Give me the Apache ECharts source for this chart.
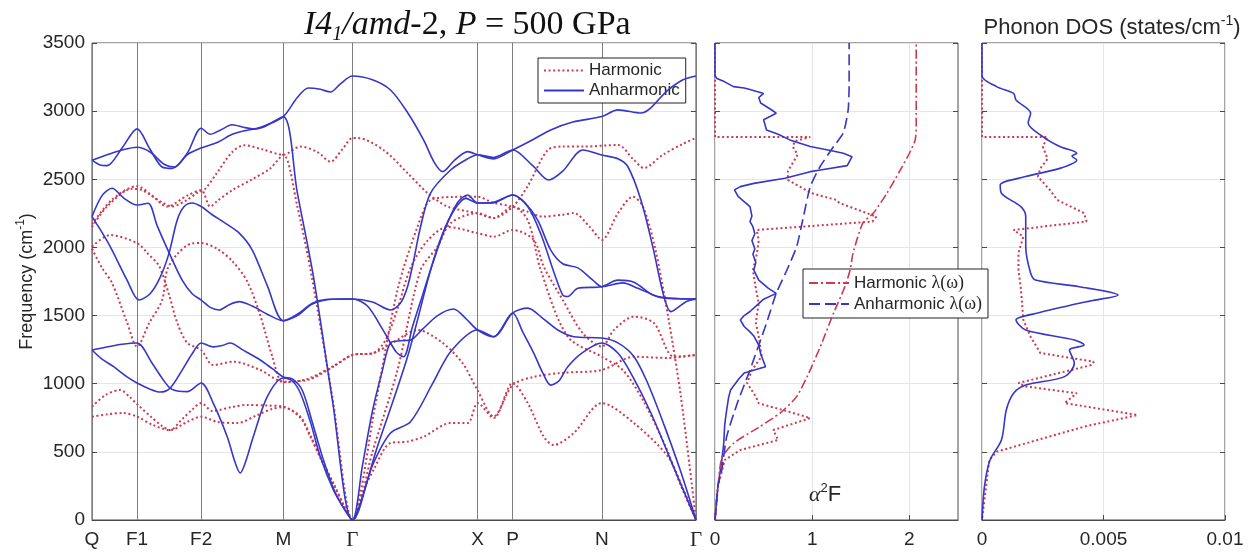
<!DOCTYPE html>
<html>
<head>
<meta charset="utf-8">
<script src="https://cdn.jsdelivr.net/npm/echarts@6/dist/echarts.min.js"></script>
<style>
html, body { margin: 0; padding: 0; background: #fff; }
#chart { width: 1258px; height: 553px; }
</style>
</head>
<body>
<div id="chart"></div>
<script>
// k-path (path length, arbitrary units) and high-symmetry labels
const kPath = [0, 45, 109, 191, 260, 385, 420, 509, 603];
const kLabels = ['Q', 'F1', 'F2', 'M', 'Γ', 'X', 'P', 'N', 'Γ'];
const freqTicks = [0, 500, 1000, 1500, 2000, 2500, 3000, 3500];
const a2fTicks = [0, 1, 2];
const dosTicks = [0, 0.005, 0.01];

// Anharmonic phonon branches [k, frequency cm^-1]
const anhBand1 = [[0,2640],[8,2605],[15,2600],[30,2730],[45,2870],[58,2720],[70,2590],[80,2580],[95,2690],[109,2875],[118,2830],[128,2860],[140,2900],[152,2880],[162,2870],[175,2900],[191,2960],[205,3100],[216,3170],[228,3160],[238,3140],[248,3200],[260,3258],[280,3230],[298,3155],[315,2990],[331,2789],[342,2620],[350,2556],[362,2640],[375,2703],[385,2680],[401,2650],[420,2715],[440,2790],[458,2862],[480,2920],[509,2960],[525,3009],[548,2986],[575,3155],[590,3230],[603,3258]];
const anhBand2 = [[0,2640],[15,2680],[30,2715],[45,2735],[58,2700],[72,2610],[82,2590],[95,2680],[109,2730],[125,2770],[140,2830],[155,2860],[170,2880],[191,2960],[205,2400],[221,1790],[240,880],[260,0],[285,540],[315,1198],[338,1834],[350,2100],[362,2280],[373,2360],[385,2326],[400,2330],[420,2385],[432,2330],[445,2200],[458,1980],[470,1880],[485,1850],[500,1760],[509,1712],[530,1740],[545,1700],[565,1640],[585,1625],[603,1622]];
const anhBand3 = [[0,2226],[10,2380],[20,2434],[32,2360],[45,2311],[56,2324],[65,2160],[77,1960],[90,1760],[100,1660],[109,1614],[118,1560],[127,1541],[137,1580],[147,1602],[160,1570],[175,1510],[191,1462],[205,1510],[220,1590],[235,1620],[250,1622],[260,1622],[280,1600],[298,1541],[308,1592],[315,1712],[321,1900],[328,2152],[338,2399],[358,2568],[375,2650],[385,2680],[401,2660],[420,2715],[440,2600],[456,2495],[470,2560],[490,2715],[509,2678],[525,2650],[535,2592],[548,2348],[560,2000],[571,1639],[578,1529],[593,1602],[603,1622]];
const anhBand4 = [[0,2226],[10,2110],[20,1981],[35,1760],[47,1614],[58,1660],[68,1780],[77,1960],[85,2200],[92,2300],[100,2326],[109,2300],[120,2240],[133,2178],[147,2105],[160,1981],[175,1720],[191,1462],[205,1500],[220,1585],[240,1620],[260,1622],[275,1570],[290,1400],[304,1230],[311,1198],[320,1420],[330,1650],[340,1880],[352,2130],[365,2330],[375,2385],[385,2326],[400,2326],[420,2385],[435,2300],[448,2100],[462,1800],[470,1650],[475,1640],[485,1700],[509,1712],[525,1760],[541,1745],[560,1650],[575,1625],[603,1622]];
const anhBand5 = [[0,1247],[15,1270],[30,1290],[45,1299],[60,1150],[70,1040],[78,968],[87,945],[95,942],[109,1005],[121,858],[135,611],[143,420],[148,345],[153,420],[161,611],[175,905],[191,1042],[200,1020],[208,932],[218,720],[228,462],[241,220],[252,80],[260,0],[270,400],[280,800],[290,1100],[298,1300],[308,1315],[318,1320],[330,1400],[345,1500],[361,1548],[373,1480],[385,1394],[401,1345],[420,1519],[435,1555],[450,1480],[465,1394],[481,1345],[509,1335],[525,1300],[541,1200],[555,1000],[571,700],[588,350],[603,0]];
const anhBand6 = [[0,1247],[10,1180],[22,1123],[35,1050],[45,1005],[58,960],[68,939],[78,968],[90,1100],[100,1220],[109,1299],[121,1270],[130,1280],[138,1299],[150,1250],[168,1174],[180,1110],[191,1050],[200,1035],[210,950],[220,715],[230,465],[242,215],[252,78],[260,0],[280,400],[298,638],[318,721],[340,1000],[358,1235],[385,1394],[401,1345],[420,1519],[430,1380],[441,1225],[450,1080],[458,990],[466,1020],[475,1125],[490,1230],[509,1299],[525,1225],[540,1050],[558,785],[580,400],[603,0]];

// Harmonic phonon branches [k, frequency cm^-1]
const harBand1 = [[0,2170],[20,2350],[45,2450],[60,2380],[75,2300],[95,2380],[109,2420],[118,2300],[125,2340],[140,2420],[160,2500],[178,2580],[191,2680],[205,2300],[219,1800],[240,900],[260,0],[283,850],[305,1688],[325,2152],[338,2348],[360,2370],[385,2372],[400,2330],[420,2299],[435,2262],[450,2226],[470,2240],[481,2252],[497,2150],[509,2055],[525,2250],[540,2372],[550,2300],[562,2000],[575,1500],[588,900],[603,0]];
const harBand2 = [[0,2150],[15,2300],[40,2430],[50,2420],[70,2330],[80,2300],[95,2350],[105,2400],[113,2430],[125,2550],[140,2700],[152,2750],[170,2720],[191,2680],[208,2740],[225,2700],[238,2629],[250,2720],[260,2803],[265,2803],[291,2715],[315,2546],[335,2399],[355,2300],[385,2250],[401,2216],[420,2299],[435,2450],[455,2715],[470,2740],[491,2740],[525,2752],[540,2650],[551,2583],[570,2680],[590,2760],[603,2803]];
const harBand3 = [[0,2006],[18,2091],[45,2032],[55,1960],[67,1863],[77,1650],[85,1450],[95,1300],[109,1247],[121,1137],[141,1162],[168,1101],[191,1015],[215,1027],[241,1125],[260,1211],[281,1225],[293,1320],[305,1550],[318,1850],[335,2050],[355,2150],[385,2105],[401,2079],[420,2128],[441,2055],[451,1859],[470,1614],[490,1370],[509,1272],[521,1394],[541,1492],[561,1445],[581,1198],[603,1211]];
const harBand4 = [[0,1990],[10,1850],[20,1739],[35,1450],[45,1272],[57,1443],[70,1614],[75,1834],[85,1950],[100,2030],[109,2032],[125,1990],[140,1900],[155,1750],[168,1500],[180,1200],[191,1010],[215,1035],[241,1130],[260,1211],[281,1225],[300,1300],[325,1394],[350,1300],[370,1150],[385,950],[401,760],[420,990],[441,1050],[470,1080],[509,1101],[541,1198],[575,1189],[603,1211]];
const harBand5 = [[0,831],[14,920],[28,954],[38,900],[45,850],[60,750],[70,690],[78,660],[90,740],[100,810],[109,858],[120,800],[127,807],[140,830],[155,844],[175,840],[191,831],[208,758],[218,620],[228,462],[241,271],[252,100],[260,0],[270,200],[281,367],[298,565],[315,575],[331,611],[358,711],[375,711],[385,858],[401,748],[420,1005],[435,858],[451,611],[461,550],[481,638],[509,858],[541,711],[575,465],[590,230],[603,0]];
const harBand6 = [[0,758],[15,775],[31,785],[45,758],[60,700],[78,660],[95,720],[109,758],[125,720],[145,711],[165,770],[180,815],[191,828],[208,750],[218,610],[228,455],[241,265],[252,95],[260,0],[280,500],[305,1101],[328,1834],[345,2006],[358,2178],[385,2252],[401,2216],[420,2299],[435,2200],[448,1834],[475,1345],[509,1198],[530,1100],[550,880],[572,550],[588,250],[603,0]];

// Eliashberg function alpha^2F [value, frequency]
const a2fHarm = [[0,3500],[0,2810],[0.98,2810],[0.82,2780],[0.8,2740],[0.85,2680],[0.8,2620],[0.75,2560],[0.75,2495],[0.99,2399],[1.25,2348],[1.28,2326],[1.66,2226],[1.62,2190],[0.43,2128],[0.45,2050],[0.43,1950],[0.39,1834],[0.42,1700],[0.45,1590],[0.42,1450],[0.45,1345],[0.48,1200],[0.38,1100],[0.33,1005],[0.42,905],[0.45,856],[0.7,807],[0.98,748],[0.6,660],[0.65,587],[0.26,514],[0.1,440],[0.03,245],[0,0]];
const a2fAnh = [[0,3500],[0,3260],[0.02,3240],[0.1,3215],[0.19,3180],[0.3,3170],[0.35,3160],[0.5,3130],[0.45,3100],[0.47,3060],[0.58,3010],[0.63,2985],[0.5,2937],[0.53,2862],[0.65,2830],[0.77,2789],[0.98,2740],[1.2,2710],[1.32,2691],[1.41,2666],[1.36,2600],[1.1,2570],[0.98,2556],[0.72,2508],[0.4,2470],[0.26,2446],[0.2,2422],[0.24,2372],[0.36,2299],[0.38,2230],[0.36,2190],[0.39,2152],[0.41,2100],[0.38,2050],[0.41,1990],[0.39,1950],[0.42,1890],[0.4,1834],[0.45,1760],[0.55,1700],[0.63,1663],[0.5,1620],[0.43,1575],[0.36,1530],[0.3,1500],[0.26,1468],[0.3,1420],[0.36,1380],[0.4,1350],[0.45,1283],[0.47,1220],[0.52,1125],[0.3,1078],[0.25,1040],[0.16,954],[0.14,900],[0.12,807],[0.1,700],[0.09,563],[0.07,440],[0.03,247],[0,0]];

// Cumulative coupling lambda(omega) [value, frequency]
const lambdaHarm = [[0,0],[0.03,245],[0.07,455],[0.19,563],[0.45,680],[0.67,785],[0.84,905],[0.98,1101],[1.1,1300],[1.22,1519],[1.33,1700],[1.39,1834],[1.42,1958],[1.52,2178],[1.63,2252],[1.77,2399],[1.9,2560],[2.0,2691],[2.06,2789],[2.07,2900],[2.07,3500]];
const lambdaAnh = [[0,0],[0.03,247],[0.07,367],[0.12,611],[0.23,858],[0.36,1101],[0.53,1445],[0.63,1663],[0.74,1834],[0.84,2006],[0.91,2226],[0.98,2446],[1.08,2592],[1.22,2740],[1.32,2840],[1.37,3009],[1.38,3200],[1.38,3500]];

// Phonon density of states [states/cm^-1, frequency]
const dosHarm = [[0,3500],[0,2810],[0.0027,2810],[0.0025,2740],[0.0027,2650],[0.0024,2580],[0.0023,2520],[0.0028,2420],[0.0031,2348],[0.0042,2252],[0.0043,2190],[0.0013,2128],[0.0017,2080],[0.0015,1958],[0.0015,1834],[0.0016,1700],[0.0017,1468],[0.002,1345],[0.0024,1225],[0.0046,1162],[0.0045,1137],[0.0015,1005],[0.0018,980],[0.0039,930],[0.0034,858],[0.0064,770],[0.0042,685],[0.0006,501],[0.0003,440],[0,0]];
const dosAnh = [[0,3500],[0,3260],[0.0006,3180],[0.0013,3130],[0.0014,3082],[0.002,2985],[0.0019,2913],[0.0025,2813],[0.0032,2740],[0.0039,2691],[0.0037,2670],[0.0039,2642],[0.0032,2580],[0.0018,2520],[0.00075,2458],[0.0008,2397],[0.0016,2299],[0.0018,2226],[0.0018,2006],[0.002,1812],[0.0022,1761],[0.004,1712],[0.0056,1651],[0.0043,1602],[0.0023,1519],[0.0014,1468],[0.0018,1394],[0.0038,1321],[0.0042,1284],[0.0036,1247],[0.0038,1150],[0.0034,1052],[0.0018,990],[0.0013,930],[0.001,807],[0.0008,587],[0.00033,440],[0.0001,245],[0,0]];

const anhBands = [anhBand1, anhBand2, anhBand3, anhBand4, anhBand5, anhBand6];
const harBands = [harBand1, harBand2, harBand3, harBand4, harBand5, harBand6];

const BLUE = '#3636c8';
const RED = '#cc3a52';
const INK = '#262626';
const FRAME = '#4a4a4a';
const GRIDLINE = '#e6e6e6';
const SANS = 'Liberation Sans, Arial, sans-serif';
const SERIF = 'Liberation Serif, Times New Roman, serif';
const DOTS = [2, 2.6];

const grids = [
  { left: 92, top: 43, width: 604, height: 477 },
  { left: 715, top: 43, width: 243, height: 477 },
  { left: 982, top: 43, width: 243, height: 477 }
].map(g => Object.assign({ show: true, borderColor: FRAME, borderWidth: 1, backgroundColor: 'transparent', containLabel: false }, g));

function freqAxis(gi, showLabels, extra) {
  return Object.assign({
    gridIndex: gi, type: 'value', min: 0, max: 3500, interval: 500,
    axisLine: { show: false },
    axisTick: { show: true, inside: true, length: 5, lineStyle: { color: FRAME } },
    axisLabel: { show: showLabels, fontSize: 19, color: INK, fontFamily: SANS, margin: 7, formatter: v => String(v) },
    splitLine: { show: true, lineStyle: { color: GRIDLINE, width: 1 } }
  }, extra || {});
}

const yAxes = [
  freqAxis(0, true, {
    name: 'Frequency (cm{sup|-1})', nameLocation: 'middle', nameGap: 53,
    nameTextStyle: { fontSize: 18, color: INK, fontFamily: SANS, lineHeight: 24,
      rich: { sup: { fontSize: 12, lineHeight: 12, verticalAlign: 'top', color: INK, fontFamily: SANS } } }
  }),
  freqAxis(1, false),
  freqAxis(2, false),
  freqAxis(0, false, { position: 'right', splitLine: { show: false } }),
  freqAxis(1, false, { position: 'right', splitLine: { show: false } }),
  freqAxis(2, false, { position: 'right', splitLine: { show: false } })
];

const xAxes = [
  {
    gridIndex: 0, type: 'value', min: 0, max: 603,
    axisLine: { show: true, lineStyle: { color: FRAME } },
    axisTick: { show: false, customValues: kPath },
    axisLabel: {
      customValues: kPath, fontSize: 19, color: INK, fontFamily: SANS, margin: 10,
      formatter: v => {
        const t = kLabels[kPath.indexOf(v)];
        return t === 'Γ' ? '{g|Γ}' : t;
      },
      rich: { g: { fontFamily: SERIF, fontSize: 21, color: INK } }
    },
    splitLine: { show: true, lineStyle: { color: '#7d7d7d', width: 1 } }
  },
  {
    gridIndex: 1, type: 'value', min: 0, max: 2.5,
    axisLine: { show: true, lineStyle: { color: FRAME } },
    axisTick: { show: true, inside: true, length: 5, customValues: a2fTicks, lineStyle: { color: FRAME } },
    axisLabel: { customValues: a2fTicks, fontSize: 19, color: INK, fontFamily: SANS, margin: 10 },
    splitLine: { show: true, lineStyle: { color: GRIDLINE, width: 1 } }
  },
  {
    gridIndex: 2, type: 'value', min: 0, max: 0.01,
    axisLine: { show: true, lineStyle: { color: FRAME } },
    axisTick: { show: true, inside: true, length: 5, customValues: dosTicks, lineStyle: { color: FRAME } },
    axisLabel: { customValues: dosTicks, fontSize: 19, color: INK, fontFamily: SANS, margin: 10 },
    splitLine: { show: true, lineStyle: { color: GRIDLINE, width: 1 } }
  }
];

const series = [];
harBands.forEach(b => series.push({
  type: 'line', name: 'Harmonic', xAxisIndex: 0, yAxisIndex: 0, data: b,
  smooth: 0.3, symbol: 'none', z: 3,
  lineStyle: { color: RED, width: 2, type: DOTS }, itemStyle: { color: RED }
}));
anhBands.forEach(b => series.push({
  type: 'line', name: 'Anharmonic', xAxisIndex: 0, yAxisIndex: 0, data: b,
  smooth: 0.3, symbol: 'none', z: 4,
  lineStyle: { color: BLUE, width: 1.6 }, itemStyle: { color: BLUE }
}));

function withEndLabel(arr) {
  return arr.map((p, i) => i === arr.length - 1 ? {
    value: p,
    label: { show: true, position: 'top', distance: 4, offset: [6, 0], fontSize: 19, color: INK, fontFamily: SANS,
      formatter: q => q.value[0].toFixed(2) }
  } : p);
}

series.push(
  { type: 'line', name: 'a2F harmonic', xAxisIndex: 1, yAxisIndex: 1, data: a2fHarm, symbol: 'none', z: 3,
    lineStyle: { color: RED, width: 2, type: DOTS }, itemStyle: { color: RED } },
  { type: 'line', name: 'a2F anharmonic', xAxisIndex: 1, yAxisIndex: 1, data: a2fAnh, symbol: 'none', z: 4,
    lineStyle: { color: BLUE, width: 1.6 }, itemStyle: { color: BLUE } },
  { type: 'line', name: 'Harmonic λ(ω)', xAxisIndex: 1, yAxisIndex: 1, data: withEndLabel(lambdaHarm), symbol: 'none', smooth: 0.2, z: 5,
    lineStyle: { color: RED, width: 1.6, type: [9, 3, 2, 3] }, itemStyle: { color: RED } },
  { type: 'line', name: 'Anharmonic λ(ω)', xAxisIndex: 1, yAxisIndex: 1, data: withEndLabel(lambdaAnh), symbol: 'none', smooth: 0.2, z: 5,
    lineStyle: { color: BLUE, width: 1.6, type: [11, 5] }, itemStyle: { color: BLUE } },
  { type: 'line', name: 'DOS harmonic', xAxisIndex: 2, yAxisIndex: 2, data: dosHarm, symbol: 'none', z: 3,
    lineStyle: { color: RED, width: 2, type: DOTS }, itemStyle: { color: RED } },
  { type: 'line', name: 'DOS anharmonic', xAxisIndex: 2, yAxisIndex: 2, data: dosAnh, symbol: 'none', smooth: 0.3, z: 4,
    lineStyle: { color: BLUE, width: 1.6 }, itemStyle: { color: BLUE } }
);

const legendBase = {
  orient: 'vertical', backgroundColor: '#fff', borderColor: '#222', borderWidth: 1,
  itemWidth: 40, itemHeight: 10, itemGap: 3, selectedMode: false,
  itemStyle: { opacity: 0 },
  textStyle: { fontSize: 17, color: INK, fontFamily: SANS }
};

const option = {
  animation: false,
  backgroundColor: '#fff',
  grid: grids,
  xAxis: xAxes,
  yAxis: yAxes,
  title: [
    {
      text: '{i|I4}{s|1}{i|/amd}{n|-2, }{i|P}{n| = 500 GPa}',
      left: 299, top: 0,
      textStyle: {
        fontWeight: 'normal',
        rich: {
          i: { fontFamily: SERIF, fontStyle: 'italic', fontWeight: 'normal', fontSize: 34, lineHeight: 40, color: '#111' },
          n: { fontFamily: SERIF, fontWeight: 'normal', fontSize: 34, lineHeight: 40, color: '#111' },
          s: { fontFamily: SERIF, fontStyle: 'italic', fontWeight: 'normal', fontSize: 20, lineHeight: 20, verticalAlign: 'bottom', color: '#111' }
        }
      }
    },
    {
      text: 'Phonon DOS (states/cm{sup|-1})',
      left: 1107, top: 9, textAlign: 'center',
      textStyle: {
        fontSize: 22, fontWeight: 'normal', color: INK, fontFamily: SANS, lineHeight: 28,
        rich: { sup: { fontSize: 14, lineHeight: 14, verticalAlign: 'top', color: INK, fontFamily: SANS } }
      }
    }
  ],
  legend: [
    Object.assign({}, legendBase, {
      data: ['Harmonic', 'Anharmonic'], left: 538, top: 58, padding: [4, 6, 4, 5]
    }),
    Object.assign({}, legendBase, {
      data: ['Harmonic λ(ω)', 'Anharmonic λ(ω)'], left: 803, top: 269, padding: [5, 6, 5, 5],
      formatter: n => n.replace(' λ(ω)', '') + ' {s|λ(ω)}',
      textStyle: { fontSize: 17, color: INK, fontFamily: SANS,
        rich: { s: { fontFamily: SERIF, fontSize: 18, color: INK } } }
    })
  ],
  graphic: [
    {
      type: 'text', left: 809, top: 482, z: 10,
      style: {
        text: '{a|α}{s|2}{f|F}',
        rich: {
          a: { fontFamily: SERIF, fontStyle: 'italic', fontSize: 22, lineHeight: 26, fill: INK },
          s: { fontFamily: SANS, fontSize: 13, lineHeight: 13, verticalAlign: 'top', fill: INK },
          f: { fontFamily: SANS, fontSize: 22, lineHeight: 26, fill: INK }
        }
      }
    }
  ],
  series: series
};

const chart = echarts.init(document.getElementById('chart'), null, { renderer: 'canvas' });
chart.setOption(option);
</script>
</body>
</html>
